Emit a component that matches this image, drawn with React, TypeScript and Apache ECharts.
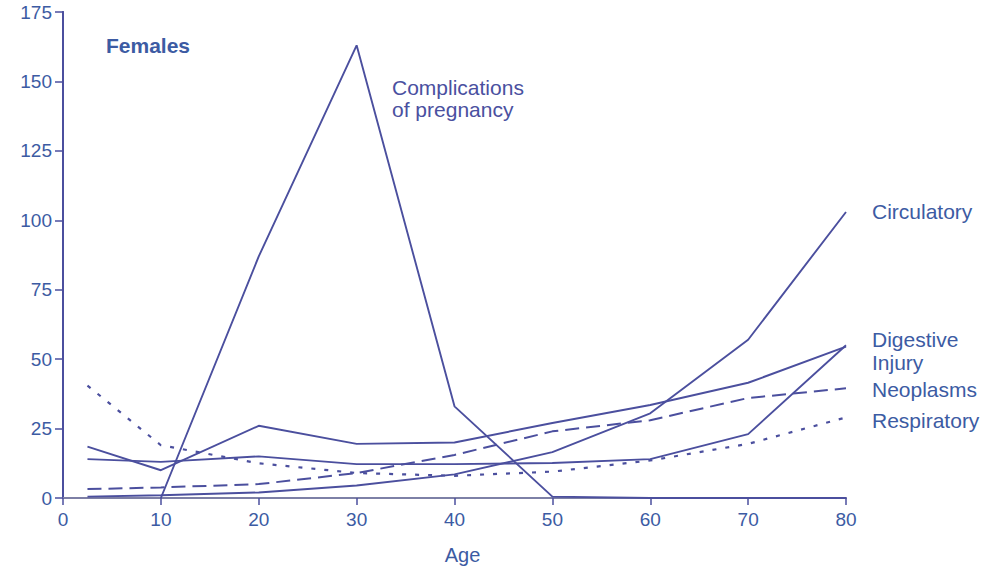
import React, { useEffect, useRef } from "react";
import * as echarts from "echarts";

const ages = [2.5, 10, 20, 30, 40, 50, 60, 70, 80];
const pregnancy = [null, 0, 87, 163, 33, 0.5, 0, 0, 0];
const circulatory = [0.5, 1, 2, 4.5, 8.5, 16.5, 30.5, 57, 103];
const digestive = [18.5, 10, 26, 19.5, 20, 27, 33.5, 41.5, 54.5];
const injury = [14, 13, 15, 12.2, 12.2, 12.6, 14, 23, 55];
const neoplasms = [3.2, 3.8, 5, 9, 15.5, 24, 28, 36, 39.5];
const respiratory = [40.5, 19, 12.5, 9, 8, 9.5, 13.5, 19.5, 29];
const yTicks = [0, 25, 50, 75, 100, 125, 150, 175];

const LINE = "#4b4f9e";
const TEXT = "#3c5ba3";
const FONT = "'Liberation Sans', Arial, sans-serif";

const pairs = (vals: (number | null)[]) =>
  ages.map((a, i) => [a, vals[i]]).filter((p) => p[1] !== null);

export default function App() {
  const ref = useRef<HTMLDivElement>(null);
  useEffect(() => {
    if (!ref.current) return;
    const chart = echarts.init(ref.current, null, { renderer: "svg" });
    const mk = (name: string, vals: (number | null)[], type: any = "solid", width = 1.9) => ({
      name,
      type: "line",
      data: pairs(vals),
      symbol: "none",
      lineStyle: { color: LINE, width, type },
      xAxisIndex: 0,
      yAxisIndex: 0,
    });
    const label = (text: string, x: number, y: number, bold = false, fill = TEXT) => ({
      type: "text",
      x,
      y,
      style: {
        text,
        fill,
        font: `${bold ? "bold " : ""}21px ${FONT}`,
        verticalAlign: "middle",
        align: "left",
      },
    });
    chart.setOption({
      animation: false,
      backgroundColor: "#ffffff",
      grid: { left: 63, right: 146, top: 12, bottom: 74 },
      xAxis: [
        {
          type: "value",
          min: 0,
          max: 80,
          interval: 10,
          name: "Age",
          nameLocation: "middle",
          nameGap: 47,
          nameTextStyle: { color: TEXT, fontSize: 20, fontFamily: FONT, padding: [0, 0, 0, 16] },
          axisLine: { show: true, lineStyle: { color: LINE, width: 2 } },
          axisTick: { show: true, length: 7, lineStyle: { color: LINE, width: 1.5 } },
          axisLabel: { color: TEXT, fontSize: 19, fontFamily: FONT, margin: 12 },
          splitLine: { show: false },
        },
        {
          type: "value",
          position: "top",
          min: 0,
          max: 80,
          axisLine: { show: true, lineStyle: { color: "#8e90a8", width: 1.5 } },
          axisTick: { show: false },
          axisLabel: { show: false },
          splitLine: { show: false },
        },
      ],
      yAxis: [
        {
          type: "value",
          min: 0,
          max: 175,
          interval: 25,
          axisLine: { show: true, lineStyle: { color: LINE, width: 2 } },
          axisTick: { show: true, length: 8, lineStyle: { color: LINE, width: 1.5 } },
          axisLabel: {
            color: TEXT,
            fontSize: 19,
            fontFamily: FONT,
            margin: 11,
            formatter: (v: number) => (yTicks.includes(v) ? String(v) : ""),
          },
          splitLine: { show: false },
        },
        {
          type: "value",
          position: "right",
          min: 0,
          max: 175,
          axisLine: { show: true, lineStyle: { color: LINE, width: 2 } },
          axisTick: { show: false },
          axisLabel: { show: false },
          splitLine: { show: false },
        },
      ],
      series: [
        mk("Complications of pregnancy", pregnancy),
        mk("Circulatory", circulatory),
        mk("Digestive", digestive),
        mk("Injury", injury),
        mk("Neoplasms", neoplasms, [14, 7], 2),
        mk("Respiratory", respiratory, [4, 9], 2.2),
      ],
      graphic: [
        label("Females", 106, 45, true),
        label("Complications", 392, 87, false, "#4a50a0"),
        label("of pregnancy", 392, 109, false, "#4a50a0"),
        label("Circulatory", 872, 211),
        label("Digestive", 872, 339),
        label("Injury", 872, 362),
        label("Neoplasms", 872, 389),
        label("Respiratory", 872, 420),
      ],
    });
    return () => chart.dispose();
  }, []);
  return <div ref={ref} style={{ width: 992, height: 572, position: "absolute", left: 0, top: 0 }} />;
}
